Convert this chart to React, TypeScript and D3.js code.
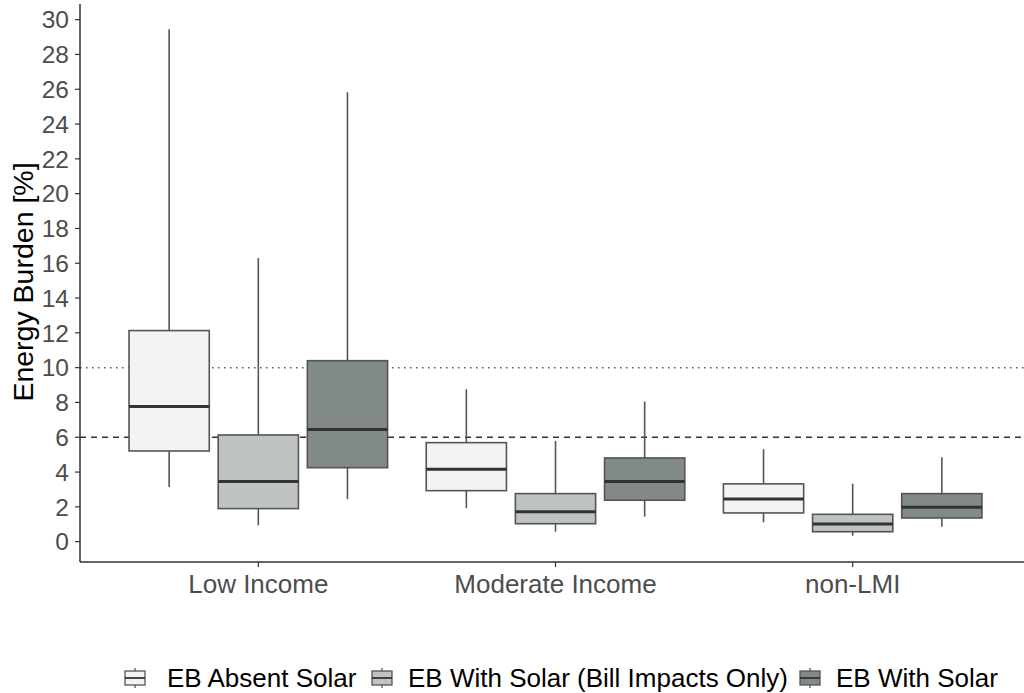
import React from "react";
import * as d3 from "d3";

const categories = ["Low Income", "Moderate Income", "non-LMI"];
const seriesNames = ["EB Absent Solar", "EB With Solar (Bill Impacts Only)", "EB With Solar"];
const seriesFills = ["#f3f3f3", "#bfc3c3", "#818a87"];
// [lowWhisker, q1, median, q3, highWhisker] per category, per series
const absentSolar = [
  [3.14, 5.21, 7.76, 12.13, 29.45],
  [1.92, 2.93, 4.16, 5.69, 8.76],
  [1.11, 1.65, 2.45, 3.32, 5.31],
];
const billImpacts = [
  [0.94, 1.9, 3.45, 6.13, 16.3],
  [0.57, 1.03, 1.72, 2.76, 5.79],
  [0.34, 0.57, 1.02, 1.57, 3.33],
];
const withSolar = [
  [2.44, 4.25, 6.44, 10.4, 25.83],
  [1.44, 2.38, 3.45, 4.81, 8.05],
  [0.86, 1.36, 1.98, 2.76, 4.85],
];
const yTicks = d3.range(0, 31, 2);
const refDotted = 10;
const refDashed = 6;

export default function App() {
  const W = 1024, H = 693;
  const left = 80, right = 1031, top = 4, bottom = 562;
  const font = "Liberation Sans, Arial, sans-serif";
  const y = d3.scaleLinear().domain([-1.17, 30.9]).range([bottom, top]);
  const x = d3.scaleLinear().domain([0.4, 3.6]).range([left, right]);
  const unit = x(1) - x(0);
  const dodge = d3.scaleBand<number>().domain([0, 1, 2]).range([-0.45, 0.45]);
  const boxW = dodge.bandwidth() * 0.9 * unit;
  const series = [absentSolar, billImpacts, withSolar];
  const grey = "#4d4d4d";

  const keyX = [125, 372, 800];
  const ly = 678;

  return (
    <svg width={W} height={H} style={{ position: "absolute", left: 0, top: 0, background: "#fff" }}>
      {/* reference lines */}
      <line x1={left} x2={W} y1={y(refDotted)} y2={y(refDotted)} stroke="#555" strokeWidth={1.5} strokeDasharray="1.5,4.5" />
      <line x1={left} x2={W} y1={y(refDashed)} y2={y(refDashed)} stroke="#333" strokeWidth={1.5} strokeDasharray="6,5" />
      {series.map((s, si) =>
        s.map((v, ci) => {
          const cx = x(ci + 1) + (dodge(si)! + dodge.bandwidth() / 2) * unit;
          const [lo, q1, med, q3, hi] = v;
          return (
            <g key={`${si}-${ci}`}>
              <line x1={cx} x2={cx} y1={y(hi)} y2={y(q3)} stroke="#555" strokeWidth={1.6} />
              <line x1={cx} x2={cx} y1={y(q1)} y2={y(lo)} stroke="#555" strokeWidth={1.6} />
              <rect x={cx - boxW / 2} y={y(q3)} width={boxW} height={y(q1) - y(q3)} fill={seriesFills[si]} stroke="#555" strokeWidth={1.6} />
              <line x1={cx - boxW / 2} x2={cx + boxW / 2} y1={y(med)} y2={y(med)} stroke="#333" strokeWidth={3} />
            </g>
          );
        })
      )}
      {/* axes */}
      <line x1={left} x2={left} y1={top} y2={bottom} stroke="#333" strokeWidth={1.5} />
      <line x1={left} x2={W} y1={bottom} y2={bottom} stroke="#333" strokeWidth={1.5} />
      {yTicks.map((t) => (
        <g key={t}>
          <line x1={left - 5} x2={left} y1={y(t)} y2={y(t)} stroke="#333" strokeWidth={1.2} />
          <text x={69} y={y(t)} dy="0.36em" textAnchor="end" fontFamily={font} fontSize={24.5} fill={grey}>
            {t}
          </text>
        </g>
      ))}
      {categories.map((c, i) => (
        <g key={c}>
          <line x1={x(i + 1)} x2={x(i + 1)} y1={bottom} y2={bottom + 5} stroke="#333" strokeWidth={1.2} />
          <text x={x(i + 1)} y={593} textAnchor="middle" fontFamily={font} fontSize={26} fill={grey}>
            {c}
          </text>
        </g>
      ))}
      <text
        transform={`translate(33, 282) rotate(-90)`}
        textAnchor="middle"
        fontFamily={font}
        fontSize={28.5}
        fill="#000"
      >
        Energy Burden [%]
      </text>
      {/* legend */}
      {seriesNames.map((n, i) => (
        <g key={n}>
          <line x1={keyX[i] + 10} x2={keyX[i] + 10} y1={ly - 10} y2={ly + 10} stroke="#555" strokeWidth={1.3} />
          <rect x={keyX[i]} y={ly - 7} width={20} height={14} fill={seriesFills[i]} stroke="#555" strokeWidth={1.3} />
          <line x1={keyX[i]} x2={keyX[i] + 20} y1={ly} y2={ly} stroke="#333" strokeWidth={1.8} />
          <text x={i === 0 ? 167 : keyX[i] + 36} y={ly} dy="0.36em" fontFamily={font} fontSize={26} fill="#000">
            {n}
          </text>
        </g>
      ))}
    </svg>
  );
}
